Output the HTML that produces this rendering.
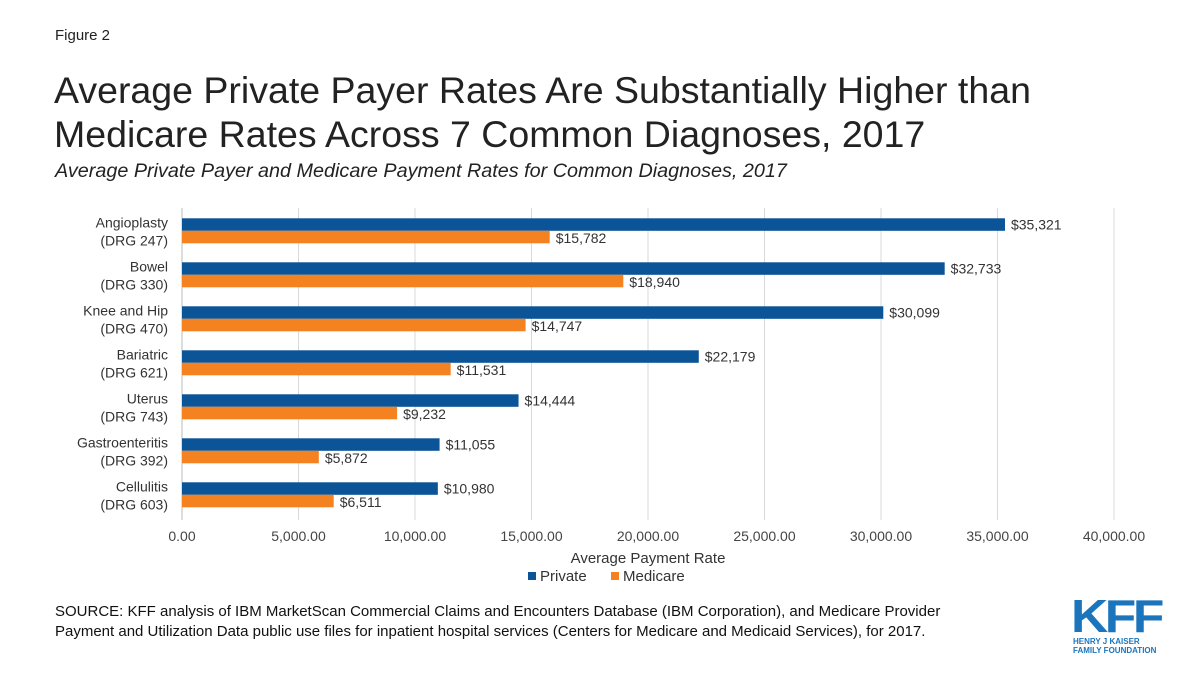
<!DOCTYPE html>
<html><head><meta charset="utf-8"><style>
body{margin:0;width:1200px;height:675px;background:#fff;font-family:"Liberation Sans",Arial,sans-serif;overflow:hidden;position:relative}
.t{position:absolute;white-space:nowrap}
</style></head><body>
<div class="t" style="left:55px;top:27px;font-size:15px;color:#222">Figure 2</div>
<div class="t" style="left:54px;top:68px;font-size:37.5px;line-height:44px;color:#222">Average Private Payer Rates Are Substantially Higher than<br>Medicare Rates Across 7 Common Diagnoses, 2017</div>
<div class="t" style="left:55px;top:160px;font-size:19.8px;font-style:italic;color:#222">Average Private Payer and Medicare Payment Rates for Common Diagnoses, 2017</div>
<svg id="chart" width="1200" height="675" style="position:absolute;left:0;top:0"></svg>
<div class="t" style="left:55px;top:602px;font-size:15px;line-height:20px;color:#111">SOURCE: KFF analysis of IBM MarketScan Commercial Claims and Encounters Database (IBM Corporation), and Medicare Provider<br>Payment and Utilization Data public use files for inpatient hospital services (Centers for Medicare and Medicaid Services), for 2017.</div>
<div style="position:absolute;left:1070px;top:596px;width:92px;color:#1b75bc">
<div style="font-size:46px;font-weight:bold;line-height:40px;letter-spacing:-3px;text-align:center;transform:scaleX(1.12)">KFF</div>
<div style="font-size:8px;line-height:9px;font-weight:bold;text-align:left;padding-left:3px;margin-top:1px">HENRY J KAISER<br>FAMILY FOUNDATION</div>
</div>
<script>
const categories=["Angioplasty|(DRG 247)","Bowel|(DRG 330)","Knee and Hip|(DRG 470)","Bariatric|(DRG 621)","Uterus|(DRG 743)","Gastroenteritis|(DRG 392)","Cellulitis|(DRG 603)"];
const privateVals=[35321,32733,30099,22179,14444,11055,10980];
const medicareVals=[15782,18940,14747,11531,9232,5872,6511];
const ticks=[0,5000,10000,15000,20000,25000,30000,35000,40000];
const svg=document.getElementById('chart');
const NS='http://www.w3.org/2000/svg';
const x0=182,scale=0.0233,top0=218.3,rowH=44,barH=12.5;
const xs=v=>x0+v*scale;
function mk(tag,attrs,txt){const e=document.createElementNS(NS,tag);for(const k in attrs)e.setAttribute(k,attrs[k]);if(txt!=null)e.textContent=txt;svg.appendChild(e);return e;}
const fmt=v=>'$'+v.toLocaleString('en-US');
ticks.forEach(t=>{
  const g=mk('line',{x1:xs(t),x2:xs(t),y1:208,y2:520,stroke:t===0?'#bbb':'#d9d9d9','stroke-width':1});
  
  
  const l=mk('text',{x:xs(t),y:541,'text-anchor':'middle','font-size':14,fill:'#444'},t.toLocaleString('en-US',{minimumFractionDigits:2}));
  
  
});
categories.forEach((c,i)=>{
  const y=top0+i*rowH;
  const p=c.split('|');
  const a=mk('text',{x:168,y:y+9,'text-anchor':'end','font-size':14,fill:'#333'},p[0]);
  
  
  const b=mk('text',{x:168,y:y+27,'text-anchor':'end','font-size':14,fill:'#333'},p[1]);
  
  
  const r1=mk('rect',{x:x0,y:y,width:xs(privateVals[i])-x0,height:barH,fill:'#0a5497'});
  
  
  const r2=mk('rect',{x:x0,y:y+barH,width:xs(medicareVals[i])-x0,height:barH,fill:'#f58220'});
  
  
  const v1=mk('text',{x:xs(privateVals[i])+6,y:y+11,'font-size':14,fill:'#333'},fmt(privateVals[i]));
  
  
  const v2=mk('text',{x:xs(medicareVals[i])+6,y:y+barH+12,'font-size':14,fill:'#333'},fmt(medicareVals[i]));
  
  
});
const at=mk('text',{x:648,y:563,'text-anchor':'middle','font-size':15,fill:'#333'},'Average Payment Rate');


const lg1=mk('rect',{x:528,y:572,width:8,height:8,fill:'#0a5497'});


const lt1=mk('text',{x:540,y:581,'font-size':15,fill:'#333'},'Private');


const lg2=mk('rect',{x:611,y:572,width:8,height:8,fill:'#f58220'});


const lt2=mk('text',{x:623,y:581,'font-size':15,fill:'#333'},'Medicare');


</script>
</body></html>
